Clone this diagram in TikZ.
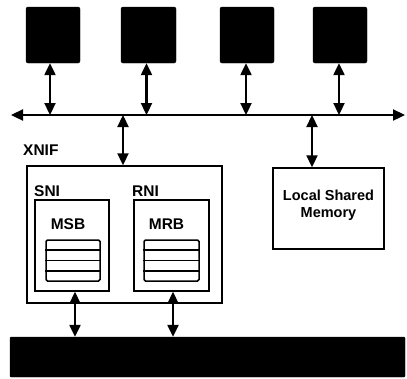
\documentclass[tikz,border=0pt]{standalone}
\usepackage{fontspec}
\setmainfont{Liberation Sans}
\usetikzlibrary{arrows.meta,calc}
\begin{document}
\begin{tikzpicture}[x=1pt,y=-1pt,
  blk/.style={draw=black,fill=black,rounded corners=2pt,inner sep=0pt},
  frame/.style={draw=black,line width=1.5pt,inner sep=0pt},
  conn/.style={line width=2.3pt,{Triangle[width=11pt,length=12pt]}-{Triangle[width=11pt,length=12pt]}},
  lbl/.style={font=\bfseries\fontsize{15.5}{17}\selectfont,inner sep=0pt}]
\useasboundingbox (0,0) rectangle (407,378);
% processors
\node[blk,minimum width=54pt,minimum height=56pt] (p1) at (53,35) {};
\node[blk,minimum width=55pt,minimum height=56pt] (p2) at (148.5,35) {};
\node[blk,minimum width=54pt,minimum height=56pt] (p3) at (247,35) {};
\node[blk,minimum width=54pt,minimum height=56pt] (p4) at (340,35) {};
% bus
\coordinate (busL) at (11,115);
\coordinate (busR) at (405,115);
\draw[conn] (busL) -- (busR);
\foreach \p/\dx in {p1/-3,p2/-2,p3/-1,p4/-1}{
  \draw[conn] ([xshift=\dx pt]\p.south) -- ([xshift=\dx pt]\p.south |- busL);
}
% XNIF
\node[frame,minimum width=195pt,minimum height=137pt] (xnif) at (124.5,234.5) {};
\node[lbl,anchor=west] (xnifl) at (23,150) {XNIF};
\node[frame,minimum width=74pt,minimum height=91pt] (sni) at (72,245.5) {};
\node[frame,minimum width=75pt,minimum height=91pt] (rni) at (171.5,245.5) {};
\node[lbl,anchor=west] (snil) at (34,191) {SNI};
\node[lbl,anchor=west] (rnil) at (132,191) {RNI};
\node[lbl] (msbl) at (68,224) {MSB};
\node[lbl] (mrbl) at (166.5,224) {MRB};
% buffers
\node[frame,rounded corners=1.5pt,minimum width=54pt,minimum height=41pt] (msb) at (73,260.5) {};
\node[frame,rounded corners=1.5pt,minimum width=55pt,minimum height=41pt] (mrb) at (171.5,260.5) {};
\foreach \b in {msb,mrb}{
  \foreach \f in {0.25,0.5,0.75}{
    \draw[line width=1.5pt] ($(\b.north west)!\f!(\b.south west)$) -- ($(\b.north east)!\f!(\b.south east)$);
  }
}
% local shared memory
\node[frame,minimum width=111pt,minimum height=81pt,align=center,font=\bfseries\fontsize{14.5}{17}\selectfont] (lsm) at (328.5,208.5) {};
\node[align=center,inner sep=0pt,font=\bfseries\fontsize{14.5}{17}\selectfont] (lsmt) at (328.5,205.5) {Local Shared\\Memory};
% bottom bar
\node[blk,rounded corners=1pt,minimum width=395pt,minimum height=40pt] (bar) at (207.5,357) {};
% connector end points
\coordinate (cx) at (123,0);
\coordinate (cl) at (312,0);
\coordinate (cs) at (75,0);
\coordinate (cr) at (173,0);
\draw[conn] (xnif.north -| cx) -- (cx |- busL);
\draw[conn] (lsm.north -| cl) -- (cl |- busL);
\draw[conn] (sni.south -| cs) -- (bar.north -| cs);
\draw[conn] (rni.south -| cr) -- (bar.north -| cr);
\end{tikzpicture}
\end{document}
